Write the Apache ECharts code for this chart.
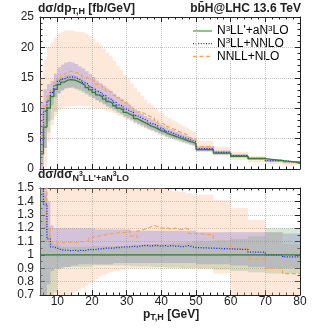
<!DOCTYPE html>
<html><head><meta charset="utf-8">
<script src="https://cdn.jsdelivr.net/npm/echarts@6/dist/echarts.min.js"></script>
<style>html,body{margin:0;padding:0;background:#fff}#c{width:314px;height:331px}</style>
</head><body><div id="c"></div>
<script>
// ---- data ----
const binEdges = [5,6,7,8,9,10,11,12,13,14,15,16,17,18,19,20,21,22,23,24,25,26,27,28,29,30,31,32,33,34,35,36,37,38,39,40,41,42,43,44,45,46,47,48,49,50,55,60,65,70,75,80];
// N3LL'+aN3LO central, fb/GeV
const greenCentral = [2.5,6.9,10.0,11.9,13.1,13.9,14.3,14.6,14.7,14.6,
  14.4,14.1,13.8,13.4,13.0,12.6,12.2,11.9,11.5,11.1,
  10.8,10.4,10.0,9.7,9.3,9.0,8.7,8.3,8.0,7.7,
  7.4,7.1,6.9,6.6,6.3,6.1,5.8,5.6,5.4,5.2,
  5.0,4.8,4.6,4.4,4.2,
  3.2,2.6,2.1,1.7,1.38,1.1];
// ratios to N3LL'+aN3LO central
const blueRatio = [1.9,1.38,1.12,1.06,1.05,1.04,1.035,1.035,1.03,1.035,
  1.03,1.035,1.03,1.04,1.04,1.04,1.045,1.045,1.05,1.05,
  1.05,1.055,1.055,1.06,1.06,1.06,1.065,1.06,1.065,1.07,
  1.07,1.065,1.07,1.07,1.065,1.07,1.065,1.07,1.065,1.065,
  1.06,1.065,1.07,1.06,1.055,
  1.05,1.045,1.04,1.02,1.0,0.985];
const orangeRatio = [2.2,1.5,1.2,1.1,1.09,1.09,1.09,1.09,1.095,1.09,
  1.095,1.1,1.1,1.11,1.13,1.14,1.14,1.15,1.15,1.155,
  1.16,1.16,1.17,1.165,1.17,1.18,1.14,1.13,1.18,1.19,
  1.2,1.21,1.22,1.21,1.2,1.2,1.2,1.19,1.2,1.19,
  1.19,1.2,1.19,1.16,1.16,
  1.15,1.1,1.045,0.97,0.9,0.86];
const greenLowR = [0.2,0.5,0.6,0.68,0.72,0.89,0.91,0.91,0.91,0.91,
  0.91,0.91,0.91,0.91,0.91,0.92,0.92,0.92,0.92,0.92,
  0.92,0.92,0.92,0.92,0.92,0.92,0.915,0.915,0.915,0.915,
  0.915,0.915,0.91,0.91,0.91,0.91,0.905,0.905,0.905,0.905,
  0.9,0.9,0.9,0.9,0.9,
  0.9,0.89,0.88,0.87,0.86,0.86];
const greenHighR = [1.8,1.45,1.2,1.1,1.08,1.07,1.06,1.06,1.06,1.06,
  1.06,1.06,1.06,1.06,1.06,1.065,1.065,1.065,1.065,1.065,
  1.065,1.065,1.065,1.065,1.065,1.07,1.07,1.075,1.075,1.075,
  1.075,1.08,1.08,1.08,1.08,1.085,1.085,1.085,1.09,1.09,
  1.09,1.09,1.095,1.095,1.1,
  1.1,1.11,1.12,1.14,1.2,1.2];
const blueLowR = [0.0,0.5,0.78,0.88,0.9,0.9,0.9,0.91,0.91,0.92,
  0.92,0.93,0.93,0.93,0.93,0.93,0.93,0.93,0.93,0.93,
  0.93,0.94,0.94,0.94,0.94,0.94,0.94,0.94,0.94,0.94,
  0.94,0.94,0.94,0.94,0.94,0.94,0.94,0.94,0.94,0.94,
  0.94,0.94,0.94,0.94,0.94,
  0.93,0.93,0.92,0.91,0.9,0.9];
const blueHighR = [4.4,1.9,1.4,1.22,1.2,1.2,1.2,1.2,1.2,1.2,
  1.2,1.2,1.2,1.2,1.2,1.2,1.19,1.19,1.19,1.19,
  1.19,1.19,1.19,1.19,1.19,1.19,1.18,1.18,1.18,1.18,
  1.18,1.18,1.18,1.18,1.18,1.18,1.18,1.18,1.18,1.18,
  1.18,1.18,1.18,1.18,1.18,
  1.17,1.17,1.17,1.17,1.17,1.16];
const orangeLowR = [0.0,0.05,0.45,0.6,0.66,0.69,0.7,0.7,0.7,0.71,
  0.72,0.74,0.75,0.77,0.79,0.8,0.82,0.84,0.85,0.86,
  0.87,0.88,0.88,0.89,0.89,0.9,0.9,0.9,0.9,0.9,
  0.9,0.9,0.9,0.9,0.9,0.9,0.9,0.9,0.9,0.9,
  0.9,0.9,0.9,0.9,0.9,
  0.89,0.86,0.7,0.66,0.6,0.56];
const orangeHighR = [6.0,2.6,2.0,1.75,1.65,1.6,1.58,1.56,1.55,1.56,
  1.57,1.6,1.63,1.66,1.68,1.7,1.71,1.72,1.72,1.72,
  1.72,1.71,1.7,1.68,1.66,1.64,1.62,1.6,1.58,1.56,
  1.54,1.53,1.52,1.51,1.5,1.5,1.49,1.49,1.48,1.48,
  1.47,1.47,1.46,1.46,1.45,
  1.45,1.41,1.35,1.26,1.17,1.08];
const legendNames = ['N3LL\'+aN3LO','N3LL+NNLO','NNLL+NLO'];
const xTickLabels = [10,20,30,40,50,60,70,80];
const yTickLabelsTop = [0,5,10,15,20,25];
const yTickLabelsRatio = ['0.7','0.8','0.9','1','1.1','1.2','1.3','1.4','1.5'];

// ---- build ----
const F = 'Liberation Sans, Arial, Helvetica, sans-serif';
const TXT = '#222';
const C = {g:'#347d34', b:'#1a1ae6', o:'#ff9f55',
  gb:'rgba(95,165,95,0.24)', bb:'rgba(105,95,215,0.28)', ob:'rgba(252,178,130,0.30)'};
const ones = greenCentral.map(() => 1);
const abs = r => r.map((v,i) => v * greenCentral[i]);
const steps = vals => binEdges.map((e,i) => [e, vals[Math.min(i, vals.length-1)]]);

function band(low, high, color, ai, yMin, yMax){
  const rows = low.map((l,i) => [binEdges[i], binEdges[i+1], l, high[i]]);
  return {type:'custom', xAxisIndex:ai, yAxisIndex:ai, silent:true, clip:true, data:rows,
    renderItem:(params, api) => {
      if (params.dataIndex !== 0) return null;
      const cl = v => Math.max(yMin, Math.min(yMax, v));
      const pts = [];
      rows.forEach(r => { pts.push(api.coord([r[0], cl(r[3])])); pts.push(api.coord([r[1], cl(r[3])])); });
      for (let i = rows.length-1; i >= 0; i--) { const r = rows[i];
        pts.push(api.coord([r[1], cl(r[2])])); pts.push(api.coord([r[0], cl(r[2])])); }
      return {type:'polygon', shape:{points:pts}, style:{fill:color}};
    }};
}
function line(name, vals, color, type, width, ai){
  return {type:'line', name:name, data:steps(vals), step:'end', symbol:'none', color:color, silent:true,
    lineStyle:{color:color, width:width, type:type}, xAxisIndex:ai, yAxisIndex:ai};
}
const series = [];
series.push(band(abs(orangeLowR), abs(orangeHighR), C.ob, 0, 0, 25));
series.push(band(abs(blueLowR), abs(blueHighR), C.bb, 0, 0, 25));
series.push(band(abs(greenLowR), abs(greenHighR), C.gb, 0, 0, 25));
series.push(line(legendNames[2], abs(orangeRatio), C.o, [4,2.5], 1.2, 0));
series.push(line(legendNames[1], abs(blueRatio), C.b, [1,1.6], 1.3, 0));
series.push(line(legendNames[0], greenCentral, C.g, 'solid', 1.3, 0));
series.push(band(orangeLowR, orangeHighR, C.ob, 2, 0.7, 1.5));
series.push(band(blueLowR, blueHighR, C.bb, 2, 0.7, 1.5));
series.push(band(greenLowR, greenHighR, C.gb, 2, 0.7, 1.5));
series.push(line('r_o', orangeRatio, C.o, [4,2.5], 1.2, 2));
series.push(line('r_b', blueRatio, C.b, [1,1.6], 1.3, 2));
series.push(line('r_g', ones, C.g, 'solid', 1.3, 2));

const axLine = {show:true, onZero:false, lineStyle:{color:'#222', width:1}};
const tick = {show:true, inside:true, length:5, lineStyle:{color:'#222'}};
const gridLine = {show:true, lineStyle:{type:'dotted', color:'#c4c4c4', width:1}};
function xAx(gi, pos, labels){
  return {type:'value', gridIndex:gi, position:pos, min:5, max:80, splitNumber:8,
    axisLine:axLine, axisTick:tick,
    minorTick:{show:true, splitNumber:5, length:2.5, lineStyle:{color:'#222'}},
    splitLine: pos==='bottom' ? gridLine : {show:false},
    axisLabel:{show:labels, margin:1, fontSize:12, fontFamily:F, color:TXT,
      formatter: v => xTickLabels.includes(Math.round(v)) && Math.abs(v-Math.round(v))<1e-6 ? String(Math.round(v)) : ''}};
}
function yAx(gi, pos, labels, min, max, interval, minorSplit, labelList){
  return {type:'value', gridIndex:gi, position:pos, min:min, max:max, interval:interval,
    axisLine:axLine, axisTick:tick,
    minorTick:{show:true, splitNumber:minorSplit, length:2.5, lineStyle:{color:'#222'}},
    splitLine: pos==='left' ? gridLine : {show:false},
    axisLabel:{show:labels, margin:6, fontSize:12, fontFamily:F, color:TXT,
      formatter: v => { const s = String(Math.round(v*1000)/1000); return labelList.map(String).includes(s) ? s : ''; }}};
}

const richN = {fontFamily:F, fontSize:12, lineHeight:13, color:TXT};
const richS = {fontFamily:F, fontSize:8, color:TXT, verticalAlign:'top', lineHeight:8};
const legendText = ['{n|N}{s|3}{n|LL\'+aN}{s|3}{n|LO}', '{n|N}{s|3}{n|LL+NNLO}', '{n|NNLL+NLO}'];
const legendColors = ['#4fa34f', C.b, C.o];
const legendDash = [null, [1,1.6], [4,2.5]];
const graphic = [];
legendText.forEach((t,i) => {
  const y = 31 + i*12.7;
  graphic.push({type:'line', silent:true, shape:{x1:193, y1:y, x2:212, y2:y},
    style:{stroke:legendColors[i], lineWidth:1.3, lineDash:legendDash[i]}});
  graphic.push({type:'text', silent:true, x:217, y:y,
    style:{text:t, rich:{n:richN, s:richS}, verticalAlign:'middle', textVerticalAlign:'middle'}});
});

const option = {
  animation:false,
  grid:[{left:40, right:14, top:17, height:152}, {left:40, right:14, top:188, height:107}],
  xAxis:[xAx(0,'bottom',false), xAx(0,'top',false), xAx(1,'bottom',true), xAx(1,'top',false)],
  yAxis:[yAx(0,'left',true,0,25,5,5,yTickLabelsTop), yAx(0,'right',false,0,25,5,5,yTickLabelsTop),
         yAx(1,'left',true,0.7,1.5,0.1,2,yTickLabelsRatio), yAx(1,'right',false,0.7,1.5,0.1,2,yTickLabelsRatio)],
  graphic: graphic,
  title:[
    {left:38, top:1, padding:0, text:'{a|dσ/dp}{b|T,H}{a| [fb/GeV]}',
      textStyle:{rich:{a:{fontFamily:F,fontSize:12,color:TXT,lineHeight:15},
                       b:{fontFamily:F,fontSize:9,color:TXT,verticalAlign:'bottom',lineHeight:9}}}},
    {right:13, top:1, padding:0, text:'{a|bb\u0304H@LHC 13.6 TeV}',
      textStyle:{rich:{a:{fontFamily:F,fontSize:12,color:TXT,lineHeight:15}}}},
    {left:38, top:166, padding:0, text:'{a|dσ/dσ}{b|N}{c|3}{b|LL\'+aN}{c|3}{b|LO}',
      textStyle:{rich:{a:{fontFamily:F,fontSize:12,color:TXT,lineHeight:17},
                       b:{fontFamily:F,fontSize:9,color:TXT,verticalAlign:'bottom',lineHeight:10},
                       c:{fontFamily:F,fontSize:7,color:TXT,verticalAlign:'middle',lineHeight:9}}}},
    {left:143, top:307, padding:0, text:'{a|p}{b|T,H}{a| [GeV]}',
      textStyle:{rich:{a:{fontFamily:F,fontSize:12,color:TXT,lineHeight:15},
                       b:{fontFamily:F,fontSize:9,color:TXT,verticalAlign:'bottom',lineHeight:9}}}}
  ],
  series: series
};
echarts.init(document.getElementById('c'), null, {renderer:'canvas'}).setOption(option);
</script></body></html>
